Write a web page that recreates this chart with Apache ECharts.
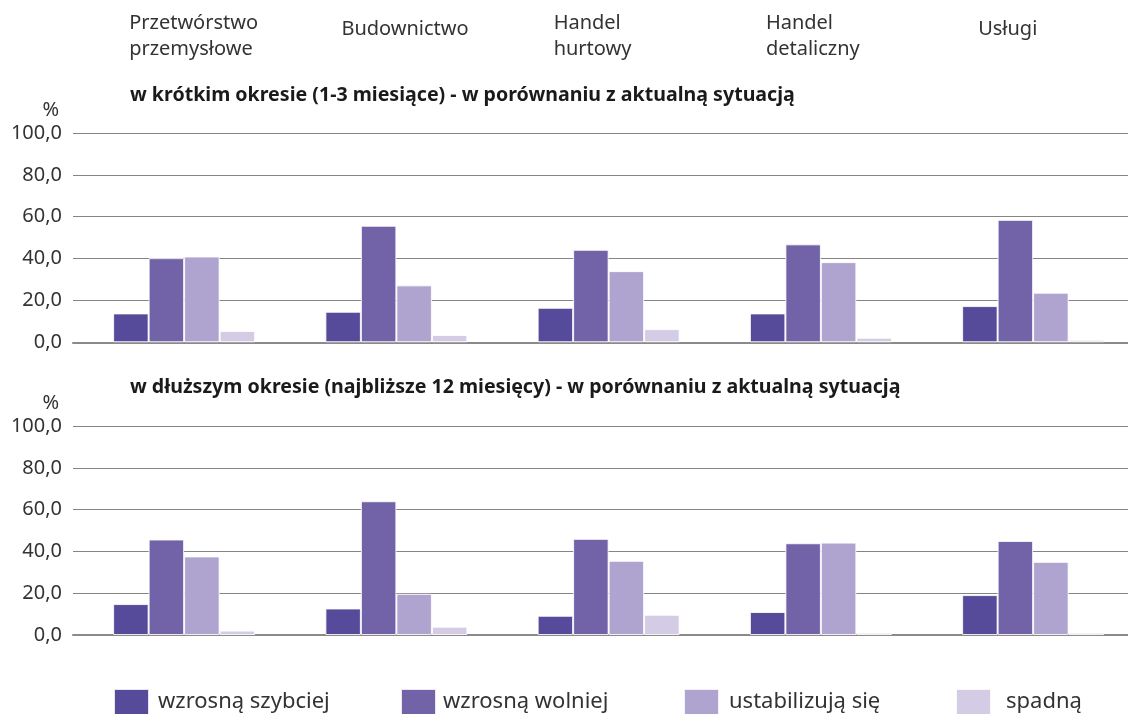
<!DOCTYPE html>
<html><head><meta charset="utf-8">
<script src="https://cdn.jsdelivr.net/npm/echarts@6/dist/echarts.min.js"></script>
<style>html,body{margin:0;padding:0;background:#fff}#c{width:1128px;height:714px}</style>
</head><body><div id="c"></div>
<script>
const categories = ["Przetwórstwo\nprzemysłowe", "Budownictwo", "Handel\nhurtowy", "Handel\ndetaliczny", "Usługi"];
const seriesNames = ["wzrosną szybciej", "wzrosną wolniej", "ustabilizują się", "spadną"];
const colors = ["#564a9b", "#7262a8", "#afa3cf", "#d4cce5"];
const yTicks = [0, 20, 40, 60, 80, 100];
const title1 = "w krótkim okresie (1-3 miesiące) - w porównaniu z aktualną sytuacją";
const title2 = "w dłuższym okresie (najbliższe 12 miesięcy) - w porównaniu z aktualną sytuacją";
// short term
const shortFaster = [13.8, 14.6, 16.5, 13.8, 17.3];
const shortSlower = [40.2, 55.7, 44.2, 46.8, 58.5];
const shortStable = [41.0, 27.2, 34.0, 38.3, 23.7];
const shortFall   = [5.4, 3.5, 6.3, 2.2, 1.2];
// long term
const longFaster = [14.8, 12.7, 9.2, 11.0, 19.1];
const longSlower = [45.7, 64.0, 46.0, 43.9, 45.0];
const longStable = [37.6, 19.7, 35.5, 44.2, 35.0];
const longFall   = [2.1, 4.0, 9.7, 1.1, 1.1];

const FONT = "Noto Sans";
const chart = echarts.init(document.getElementById('c'), null, {renderer: 'canvas'});
const shortData = [shortFaster, shortSlower, shortStable, shortFall];
const longData = [longFaster, longSlower, longStable, longFall];

function yAxis(gi) {
  return {
    type: 'value', gridIndex: gi, min: yTicks[0], max: yTicks[yTicks.length - 1], interval: 20,
    name: '%', nameLocation: 'end', nameGap: 13,
    nameTextStyle: {fontFamily: FONT, fontSize: 20, color: '#333', align: 'right', padding: [0, 14, 0, 0]},
    axisLine: {show: false, onZero: false}, axisTick: {show: false},
    axisLabel: {fontFamily: FONT, fontSize: 20, color: '#333', margin: 11,
      formatter: v => v.toFixed(1).replace('.', ',')},
    splitLine: {lineStyle: {color: '#858585', width: 1.2}}
  };
}
// category positions on a numeric band axis: index i sits at value i
function xAxis(gi) {
  return {
    type: 'value', gridIndex: gi, min: -0.5236, max: 4.447,
    axisLine: {show: true, onZero: false, lineStyle: {color: '#8a8a8a', width: 2}},
    axisTick: {show: false}, axisLabel: {show: false}, splitLine: {show: false}
  };
}
const series = [];
[shortData, longData].forEach((dset, gi) => {
  dset.forEach((d, si) => {
    series.push({
      type: 'bar', name: seriesNames[si], xAxisIndex: gi, yAxisIndex: gi,
      data: d.map((v, i) => [i, v]),
      barWidth: 35.5, barGap: '0%',
      itemStyle: {color: colors[si], borderColor: 'rgba(255,255,255,0.85)', borderWidth: 1},
      emphasis: {disabled: true}, animation: false
    });
  });
});
const legendLefts = [113, 400, 683, 955];
const legendGaps = [9, 7, 10, 15];
const legends = seriesNames.map((n, i) => ({
  data: [n], left: legendLefts[i], top: 688, padding: 0, itemWidth: 35, itemHeight: 26,
  icon: 'rect', selectedMode: false,
  textStyle: {fontFamily: FONT, fontSize: 22, color: '#333', padding: [0, 0, 0, legendGaps[i] - 5]}
}));
chart.setOption({
  animation: false,
  grid: [
    {left: 73, right: 0, top: 133, height: 209.3},
    {left: 73, right: 0, top: 426, height: 209}
  ],
  xAxis: [xAxis(0), xAxis(1)],
  yAxis: [yAxis(0), yAxis(1)],
  legend: legends,
  title: [
    {text: title1, left: 125, top: 80, textStyle: {fontFamily: FONT, fontSize: 19.6, fontWeight: 'bold', color: '#1a1a1a'}},
    {text: title2, left: 125, top: 372, textStyle: {fontFamily: FONT, fontSize: 19.6, fontWeight: 'bold', color: '#1a1a1a'}}
  ],
  series: series
});
// category headers, positioned via the axis scale
const graphics = categories.map((c, i) => {
  const x = chart.convertToPixel({xAxisIndex: 0}, i);
  const twoLine = c.indexOf('\n') >= 0;
  return {type: 'text', left: x - 55, top: twoLine ? 10 : 16, silent: true,
    style: {text: c, fontFamily: FONT, fontSize: 20, fill: '#333', lineHeight: 26}};
});
chart.setOption({graphic: graphics});
</script></body></html>
